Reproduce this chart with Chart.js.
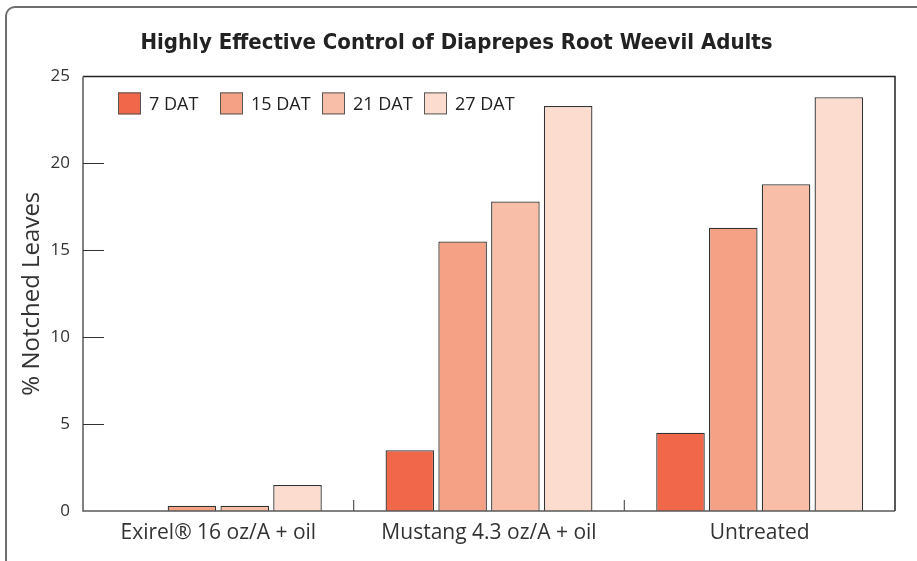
<!DOCTYPE html>
<html>
<head>
<meta charset="utf-8">
<script src="https://cdn.jsdelivr.net/npm/chart.js@4.4.1/dist/chart.umd.min.js"></script>
<style>
  html, body { margin: 0; padding: 0; background: #fff; overflow: hidden; }
  #wrap { position: relative; width: 917px; height: 561px; }
  #frame {
    position: absolute; left: 5px; top: 6px; width: 1000px; height: 700px;
    border: 2.5px solid #6e6e6e; border-radius: 10px; box-sizing: border-box;
  }
  canvas { position: absolute; left: 0; top: 0; }
</style>
</head>
<body>
<div id="wrap">
  <div id="frame"></div>
  <canvas id="chart" width="917" height="561"></canvas>
</div>
<script>
  /* ---------- Data ---------- */

  const categories = ['Exirel\u00AE 16 oz/A + oil', 'Mustang 4.3 oz/A + oil', 'Untreated'];
  const seriesNames = ['7 DAT', '15 DAT', '21 DAT', '27 DAT'];
  const dat7 = [0, 3.5, 4.5];
  const dat15 = [0.3, 15.5, 16.3];
  const dat21 = [0.3, 17.8, 18.8];
  const dat27 = [1.5, 23.3, 23.8];
  const yTicks = [0, 5, 10, 15, 20, 25];

  const colors = ['#F0674A', '#F5A185', '#F9BEA8', '#FCDCCF'];
  const textFont = "'Open Sans', 'Noto Sans', sans-serif";

  /* ---------- Plot box, inner ticks, legend ---------- */

  const plotDecor = {
    id: 'plotDecor',
    afterDatasetsDraw(chart) {
      const { ctx, chartArea: a, scales } = chart;
      ctx.save();

      // box round the plot area: grey left/bottom, dark top/right
      ctx.lineWidth = 1.5;
      ctx.strokeStyle = '#222';
      ctx.beginPath();
      ctx.moveTo(a.left, a.top);
      ctx.lineTo(a.right, a.top);
      ctx.lineTo(a.right, a.bottom);
      ctx.stroke();
      ctx.strokeStyle = '#5a5a5a';
      ctx.beginPath();
      ctx.moveTo(a.left, a.top);
      ctx.lineTo(a.left, a.bottom);
      ctx.lineTo(a.right, a.bottom);
      ctx.stroke();

      // y ticks pointing inward
      ctx.lineWidth = 1;
      ctx.strokeStyle = '#333';
      yTicks.forEach((v) => {
        if (v === yTicks[0] || v === yTicks[yTicks.length - 1]) return;
        const y = Math.round(scales.y.getPixelForValue(v)) + 0.5;
        ctx.beginPath();
        ctx.moveTo(a.left, y);
        ctx.lineTo(a.left + 21, y);
        ctx.stroke();
      });

      // short separators between categories
      ctx.strokeStyle = '#555';
      ctx.lineWidth = 1.2;
      for (let i = 0; i < categories.length - 1; i++) {
        const x = (scales.x.getPixelForValue(i) + scales.x.getPixelForValue(i + 1)) / 2;
        ctx.beginPath();
        ctx.moveTo(x, a.bottom);
        ctx.lineTo(x, a.bottom - 11);
        ctx.stroke();
      }

      // legend inside plot, top left, fixed slot per item
      ctx.font = '18px ' + textFont;
      ctx.textBaseline = 'middle';
      const yMid = a.top + 27;
      chart.data.datasets.forEach((ds, i) => {
        const x = a.left + 35 + i * 102;
        ctx.fillStyle = ds.backgroundColor;
        ctx.fillRect(x, yMid - 11, 23, 22);
        ctx.strokeStyle = '#555';
        ctx.lineWidth = 1;
        ctx.strokeRect(x + 0.5, yMid - 10.5, 22, 21);
        ctx.fillStyle = '#222';
        ctx.fillText(ds.label, x + 31, yMid + 1);
      });

      ctx.restore();
    },
  };

  /* ---------- Chart ---------- */

  const seriesData = [dat7, dat15, dat21, dat27];

  new Chart(document.getElementById('chart'), {
    type: 'bar',
    data: {
      labels: categories,
      datasets: seriesNames.map((name, i) => ({
        label: name,
        data: seriesData[i],
        backgroundColor: colors[i],
        borderColor: '#333',
        borderWidth: 1.3,
        categoryPercentage: 0.78,
        barPercentage: 0.92,
      })),
    },
    options: {
      responsive: false,
      animation: false,
      layout: { padding: { left: 18, right: 22, top: 18, bottom: 0 } },
      scales: {
        x: {
          grid: { display: false, drawTicks: false },
          border: { display: false },
          ticks: {
            color: '#333',
            padding: 9,
            font: { family: textFont, size: 21 },
          },
          afterFit: (s) => { s.height = 50; },
        },
        y: {
          min: 0,
          max: 25,
          afterBuildTicks: (s) => { s.ticks = yTicks.map((v) => ({ value: v })); },
          grid: { display: false, drawTicks: false },
          border: { display: false },
          ticks: {
            color: '#333',
            padding: 13,
            font: { family: textFont, size: 17 },
          },
          title: {
            display: true,
            text: '% Notched Leaves',
            color: '#333',
            padding: { top: 0, bottom: 0 },
            font: { family: textFont, size: 24 },
          },
          afterFit: (s) => { s.width = 65; },
        },
      },
      plugins: {
        legend: { display: false },
        tooltip: { enabled: false },
        title: {
          display: true,
          text: 'Highly Effective Control of Diaprepes Root Weevil Adults',
          color: '#222',
          padding: { top: 12, bottom: 20 },
          font: { family: "'Liberation Sans Narrow', 'DejaVu Sans Condensed', sans-serif", size: 22, weight: 'bold' },
        },
      },
    },
    plugins: [plotDecor],
  });
</script>
</body>
</html>
